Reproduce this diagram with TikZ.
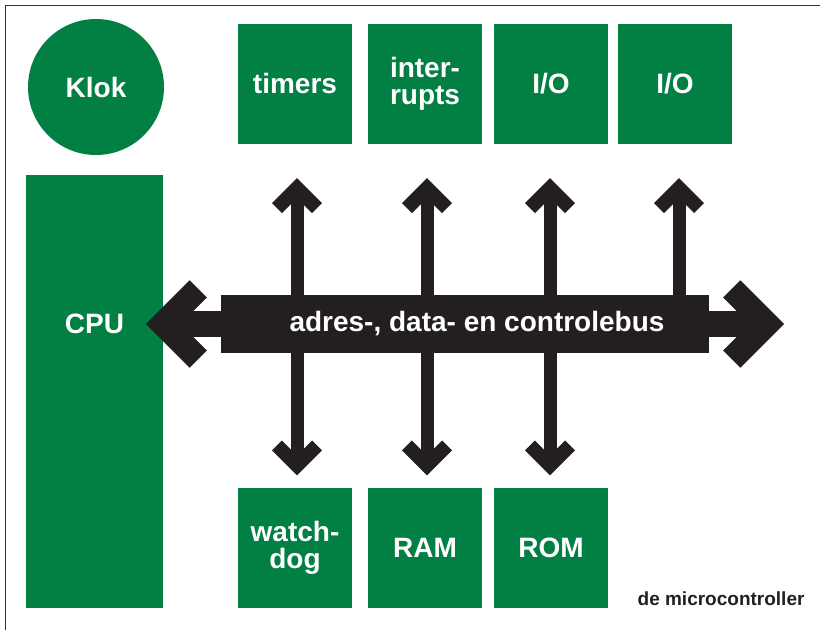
\documentclass[tikz,border=0pt]{standalone}
\usepackage{fontspec}
\setmainfont{Liberation Sans}
\usepackage{tikz}
\usetikzlibrary{calc,positioning}
\definecolor{mcgreen}{RGB}{2,128,67}
\definecolor{busblack}{RGB}{35,31,32}
\tikzset{
  boxtext/.style={text=white, align=center, font=\fontsize{28}{27}\selectfont\bfseries},
  mcbox/.style={boxtext, fill=mcgreen, minimum width=114pt, minimum height=120pt, inner sep=0pt},
  klokcircle/.style={mcbox, circle, minimum size=136pt},
  vshaft/.style={draw=busblack, line width=13pt},
  hshaft/.style={draw=busblack, line width=26pt},
  barb/.pic={\fill[busblack] (0,0) -- (-25,-25) -- (-34.9,-15.1) -- (-19.8,0) -- (-34.9,15.1) -- (-25,25) -- cycle;}
}

\begin{document}
\begin{tikzpicture}[x=1pt, y=-1pt]
  \useasboundingbox (0,0) rectangle (820,630);
  \draw[line width=1pt, draw=black!80] (5.3,630) |- (820,5.3);

  \node[klokcircle] (klok) at (96,87) {Klok};
  \node[mcbox, minimum width=137pt, minimum height=433pt] (cpu) at (94.5,391.5) {};

  % peripherals above and below the bus
  \node[mcbox] (timers) at (295,83.5) {timers};
  \node[mcbox] (intr) at (425,83.5) {inter-\\rupts};
  \node[mcbox] (io1) at (551,83.5) {I/O};
  \node[mcbox] (io2) at (675,83.5) {I/O};
  \node[mcbox] (watchdog) at (295,547.5) {watch-\\dog};
  \node[mcbox] (ram) at (425,547.5) {RAM};
  \node[mcbox] (rom) at (551,547.5) {ROM};

  \node[fill=busblack, minimum width=488pt, minimum height=58pt, inner sep=0pt] (bus) at (465,324) {};
  \node[boxtext] at (cpu |- bus) {CPU};

  \foreach \n/\dx in {timers/2,intr/2,io1/-1,io2/4}{
    \draw[vshaft] ([xshift=\dx pt]bus.north -| \n.south) -- ($(\n.south)+(\dx,50.5)$);
    \pic[rotate=90] at ($(\n.south)+(\dx,34.5)$) {barb};
  }
  \foreach \n/\dx in {watchdog/2,ram/2,rom/-1}{
    \draw[vshaft] ([xshift=\dx pt]bus.south -| \n.north) -- ($(\n.north)+(\dx,-28)$);
    \pic[rotate=-90] at ($(\n.north)+(\dx,-12)$) {barb};
  }

  % bus ends
  \draw[hshaft] (bus.west) -- ($(bus.west)+(-47,0)$);
  \pic[rotate=180, scale=1.75] at ($(bus.west)+(-75,0)$) {barb};
  \draw[hshaft] (bus.east) -- ($(bus.east)+(47,0)$);
  \pic[scale=1.75] at ($(bus.east)+(75,0)$) {barb};

  \node[boxtext] at ([xshift=12pt]bus.center) {adres-, data- en controlebus};
  \node[anchor=base east, font=\fontsize{19}{19}\selectfont\bfseries, text=busblack] (caption) at (808,605) {de microcontroller};
\end{tikzpicture}
\end{document}
